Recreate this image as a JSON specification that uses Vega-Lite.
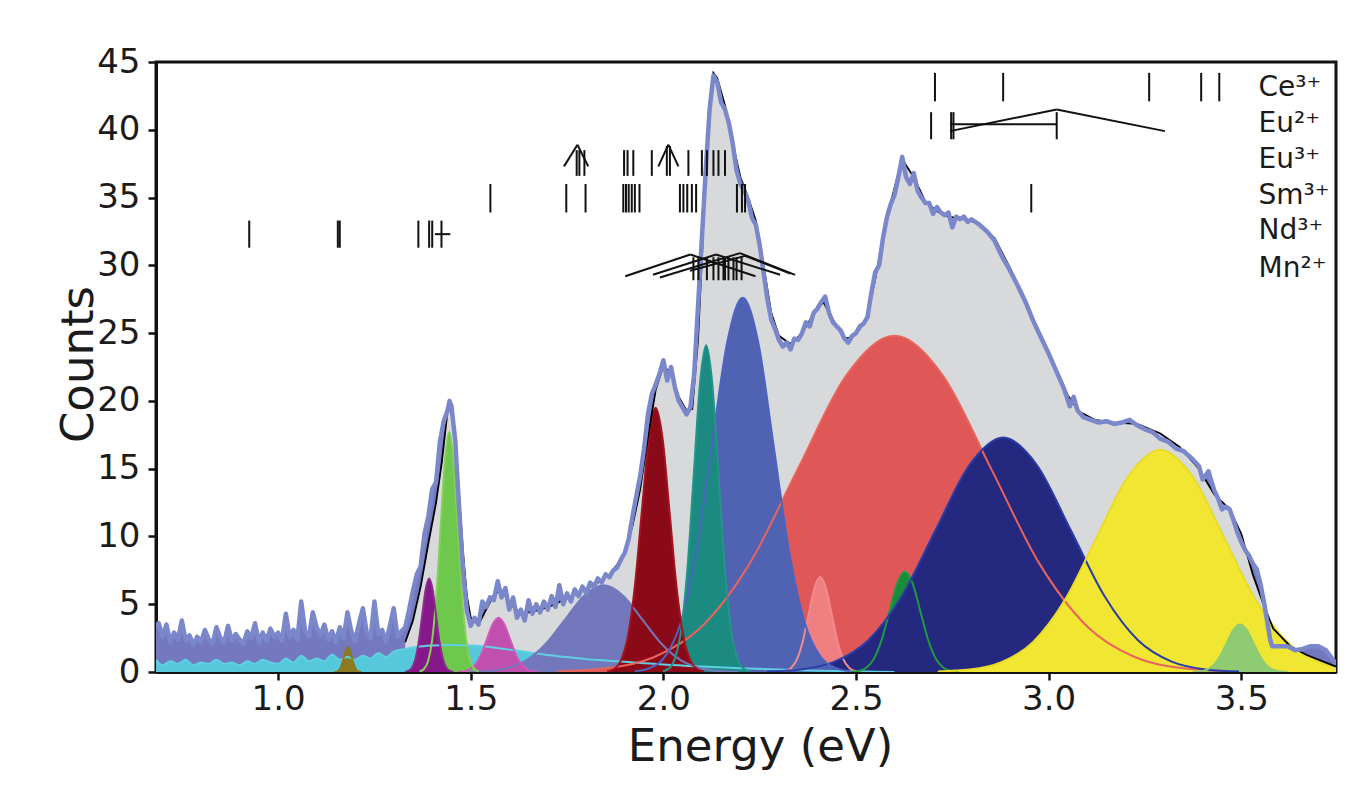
{
"$schema": "https://vega.github.io/schema/vega-lite/v6.json",
"width": 1180, "height": 610,
"autosize": {"type": "none"},
"padding": {"left": 156, "top": 62, "right": 36, "bottom": 113},
"background": "white",
"config": {
 "font": "DejaVu Sans",
 "view": {"stroke": "#111", "strokeWidth": 3},
 "axis": {"grid": false, "domainColor": "#111", "domainWidth": 3, "tickColor": "#111", "tickWidth": 2.5, "tickSize": 8, "labelColor": "#1b1b1b", "labelFontSize": 34, "titleColor": "#1b1b1b", "titleFontSize": 45, "titleFontWeight": "normal", "labelOverlap": false}
},
"datasets": {
 "meas": [
  {"e":0.683,"y":3.4},{"e":0.69,"y":3.6},{"e":0.70,"y":2.6},{"e":0.71,"y":3.5},{"e":0.72,"y":2.2},{"e":0.73,"y":2.9},{"e":0.74,"y":2.4},{"e":0.75,"y":3.8},{"e":0.76,"y":2.3},{"e":0.77,"y":2.7},{"e":0.78,"y":2.0},{"e":0.79,"y":2.6},{"e":0.80,"y":2.2},{"e":0.81,"y":3.1},{"e":0.82,"y":2.4},{"e":0.83,"y":2.1},{"e":0.84,"y":3.3},{"e":0.85,"y":2.5},{"e":0.86,"y":2.2},{"e":0.87,"y":3.4},{"e":0.88,"y":2.3},{"e":0.89,"y":2.8},{"e":0.90,"y":2.4},{"e":0.91,"y":2.1},{"e":0.92,"y":3.0},{"e":0.93,"y":2.5},{"e":0.94,"y":3.6},{"e":0.95,"y":2.2},{"e":0.96,"y":2.9},{"e":0.97,"y":2.3},{"e":0.98,"y":3.2},{"e":0.99,"y":2.6},{"e":1.00,"y":2.9},{"e":1.01,"y":2.3},{"e":1.02,"y":4.3},{"e":1.03,"y":2.6},{"e":1.04,"y":3.1},{"e":1.05,"y":2.4},{"e":1.06,"y":5.2},{"e":1.07,"y":3.0},{"e":1.08,"y":2.6},{"e":1.09,"y":4.4},{"e":1.10,"y":3.3},{"e":1.11,"y":2.7},{"e":1.12,"y":3.5},{"e":1.13,"y":2.4},{"e":1.14,"y":3.0},{"e":1.15,"y":2.2},{"e":1.16,"y":3.3},{"e":1.17,"y":2.5},{"e":1.18,"y":4.4},{"e":1.19,"y":3.0},{"e":1.20,"y":2.3},{"e":1.21,"y":3.6},{"e":1.22,"y":4.7},{"e":1.23,"y":2.9},{"e":1.24,"y":2.5},{"e":1.25,"y":5.2},{"e":1.26,"y":2.8},{"e":1.27,"y":3.1},{"e":1.28,"y":2.2},{"e":1.29,"y":3.4},{"e":1.30,"y":4.7},{"e":1.31,"y":2.6},{"e":1.32,"y":3.0},{"e":1.33,"y":3.3},{"e":1.34,"y":4.6},{"e":1.35,"y":6.0},{"e":1.36,"y":7.2},{"e":1.37,"y":7.8},{"e":1.38,"y":10.2},{"e":1.39,"y":11.5},{"e":1.40,"y":13.5},{"e":1.41,"y":14.0},{"e":1.42,"y":17.0},{"e":1.43,"y":18.5},{"e":1.44,"y":19.3},{"e":1.445,"y":20.0},{"e":1.45,"y":19.6},{"e":1.46,"y":17.0},{"e":1.47,"y":12.0},{"e":1.48,"y":7.5},{"e":1.49,"y":4.5},{"e":1.50,"y":3.4},{"e":1.51,"y":4.0},{"e":1.52,"y":3.5},{"e":1.53,"y":5.2},{"e":1.54,"y":4.8},{"e":1.55,"y":5.5},{"e":1.56,"y":5.3},{"e":1.57,"y":6.7},{"e":1.58,"y":5.5},{"e":1.59,"y":6.2},{"e":1.60,"y":4.6},{"e":1.61,"y":5.5},{"e":1.62,"y":4.0},{"e":1.63,"y":4.6},{"e":1.64,"y":3.8},{"e":1.65,"y":5.3},{"e":1.66,"y":4.3},{"e":1.67,"y":5.0},{"e":1.68,"y":4.4},{"e":1.69,"y":5.2},{"e":1.70,"y":4.6},{"e":1.71,"y":5.6},{"e":1.72,"y":4.8},{"e":1.73,"y":6.4},{"e":1.74,"y":5.0},{"e":1.75,"y":5.8},{"e":1.76,"y":5.2},{"e":1.77,"y":6.1},{"e":1.78,"y":5.6},{"e":1.79,"y":6.3},{"e":1.80,"y":5.8},{"e":1.81,"y":6.6},{"e":1.82,"y":6.3},{"e":1.83,"y":6.9},{"e":1.84,"y":6.6},{"e":1.85,"y":7.2},{"e":1.86,"y":7.0},{"e":1.87,"y":7.5},{"e":1.88,"y":7.7},{"e":1.89,"y":8.3},{"e":1.90,"y":8.8},{"e":1.91,"y":9.8},{"e":1.92,"y":11.5},{"e":1.93,"y":13.0},{"e":1.94,"y":14.5},{"e":1.95,"y":16.5},{"e":1.96,"y":19.0},{"e":1.97,"y":20.5},{"e":1.98,"y":21.2},{"e":1.99,"y":22.0},{"e":2.00,"y":23.0},{"e":2.01,"y":21.5},{"e":2.02,"y":22.5},{"e":2.03,"y":21.0},{"e":2.04,"y":20.0},{"e":2.05,"y":19.5},{"e":2.06,"y":19.0},{"e":2.07,"y":19.5},{"e":2.08,"y":22.0},{"e":2.09,"y":27.0},{"e":2.10,"y":32.0},{"e":2.11,"y":37.0},{"e":2.12,"y":41.5},{"e":2.13,"y":44.0},{"e":2.14,"y":43.5},{"e":2.15,"y":42.0},{"e":2.16,"y":41.5},{"e":2.17,"y":40.5},{"e":2.18,"y":39.0},{"e":2.19,"y":37.0},{"e":2.20,"y":36.0},{"e":2.21,"y":35.5},{"e":2.22,"y":34.8},{"e":2.23,"y":33.5},{"e":2.24,"y":33.0},{"e":2.25,"y":31.5},{"e":2.26,"y":29.5},{"e":2.27,"y":27.5},{"e":2.28,"y":26.0},{"e":2.29,"y":25.3},{"e":2.30,"y":24.5},{"e":2.31,"y":24.0},{"e":2.32,"y":24.3},{"e":2.33,"y":23.8},{"e":2.34,"y":24.6},{"e":2.35,"y":24.5},{"e":2.36,"y":25.0},{"e":2.37,"y":25.8},{"e":2.38,"y":25.5},{"e":2.39,"y":26.5},{"e":2.40,"y":26.8},{"e":2.41,"y":27.3},{"e":2.42,"y":27.7},{"e":2.43,"y":26.5},{"e":2.44,"y":25.8},{"e":2.45,"y":25.5},{"e":2.46,"y":25.2},{"e":2.47,"y":24.6},{"e":2.48,"y":24.3},{"e":2.49,"y":24.8},{"e":2.50,"y":25.0},{"e":2.51,"y":25.5},{"e":2.52,"y":25.7},{"e":2.53,"y":26.2},{"e":2.54,"y":28.0},{"e":2.55,"y":29.5},{"e":2.56,"y":30.0},{"e":2.57,"y":32.0},{"e":2.58,"y":33.5},{"e":2.59,"y":34.5},{"e":2.60,"y":35.2},{"e":2.61,"y":36.5},{"e":2.62,"y":38.0},{"e":2.63,"y":36.5},{"e":2.64,"y":36.0},{"e":2.65,"y":36.8},{"e":2.66,"y":35.5},{"e":2.67,"y":35.0},{"e":2.68,"y":34.6},{"e":2.69,"y":34.6},{"e":2.70,"y":33.8},{"e":2.71,"y":34.3},{"e":2.72,"y":33.9},{"e":2.73,"y":33.7},{"e":2.74,"y":33.9},{"e":2.75,"y":32.8},{"e":2.76,"y":33.6},{"e":2.77,"y":33.4},{"e":2.78,"y":33.6},{"e":2.79,"y":33.2},{"e":2.80,"y":33.4},{"e":2.82,"y":33.0},{"e":2.84,"y":32.5},{"e":2.86,"y":31.8},{"e":2.88,"y":30.6},{"e":2.90,"y":29.6},{"e":2.92,"y":28.5},{"e":2.94,"y":27.3},{"e":2.96,"y":25.9},{"e":2.98,"y":24.7},{"e":3.00,"y":23.5},{"e":3.02,"y":22.2},{"e":3.04,"y":20.9},{"e":3.055,"y":19.6},{"e":3.065,"y":20.3},{"e":3.075,"y":19.3},{"e":3.09,"y":18.8},{"e":3.11,"y":18.6},{"e":3.13,"y":18.4},{"e":3.15,"y":18.5},{"e":3.17,"y":18.3},{"e":3.19,"y":18.4},{"e":3.21,"y":18.6},{"e":3.23,"y":18.2},{"e":3.25,"y":17.9},{"e":3.27,"y":17.7},{"e":3.29,"y":17.2},{"e":3.31,"y":17.0},{"e":3.33,"y":16.5},{"e":3.35,"y":16.3},{"e":3.37,"y":15.8},{"e":3.39,"y":15.2},{"e":3.40,"y":14.2},{"e":3.415,"y":14.8},{"e":3.43,"y":13.4},{"e":3.44,"y":12.8},{"e":3.45,"y":12.0},{"e":3.46,"y":12.2},{"e":3.47,"y":12.0},{"e":3.48,"y":11.2},{"e":3.49,"y":10.3},{"e":3.50,"y":9.6},{"e":3.51,"y":9.0},{"e":3.52,"y":8.6},{"e":3.53,"y":8.0},{"e":3.54,"y":7.6},{"e":3.55,"y":6.5},{"e":3.56,"y":5.0},{"e":3.57,"y":3.3},{"e":3.575,"y":2.4},{"e":3.58,"y":1.9},{"e":3.60,"y":1.9},{"e":3.62,"y":1.9},{"e":3.64,"y":1.6},{"e":3.66,"y":1.7},{"e":3.68,"y":1.9},{"e":3.70,"y":1.9},{"e":3.72,"y":1.6},{"e":3.746,"y":0.6}
 ],
 "fit": [
  {"e":1.33,"y":2.2},{"e":1.35,"y":3.8},{"e":1.37,"y":6.3},{"e":1.39,"y":9.5},{"e":1.41,"y":12.5},{"e":1.425,"y":15.5},{"e":1.44,"y":19.3},{"e":1.45,"y":19.5},{"e":1.46,"y":17.3},{"e":1.47,"y":13.0},{"e":1.48,"y":8.8},{"e":1.49,"y":5.6},{"e":1.50,"y":4.0},{"e":1.52,"y":3.5},{"e":1.54,"y":4.6},{"e":1.56,"y":5.7},{"e":1.575,"y":6.0},{"e":1.59,"y":5.6},{"e":1.61,"y":4.8},{"e":1.63,"y":4.35},{"e":1.65,"y":4.4},{"e":1.68,"y":4.6},{"e":1.71,"y":4.9},{"e":1.74,"y":5.3},{"e":1.77,"y":5.7},{"e":1.80,"y":6.1},{"e":1.83,"y":6.6},{"e":1.86,"y":7.2},{"e":1.88,"y":7.9},{"e":1.90,"y":8.9},{"e":1.92,"y":10.8},{"e":1.94,"y":13.5},{"e":1.96,"y":17.3},{"e":1.98,"y":20.8},{"e":2.00,"y":22.6},{"e":2.02,"y":22.0},{"e":2.04,"y":20.3},{"e":2.06,"y":19.3},{"e":2.075,"y":19.4},{"e":2.09,"y":24.5},{"e":2.10,"y":30.5},{"e":2.11,"y":37.0},{"e":2.12,"y":42.0},{"e":2.13,"y":44.2},{"e":2.14,"y":43.8},{"e":2.16,"y":41.8},{"e":2.18,"y":39.0},{"e":2.20,"y":36.5},{"e":2.22,"y":35.0},{"e":2.24,"y":33.3},{"e":2.26,"y":30.0},{"e":2.28,"y":26.5},{"e":2.30,"y":24.8},{"e":2.33,"y":24.2},{"e":2.36,"y":25.0},{"e":2.39,"y":26.4},{"e":2.415,"y":27.3},{"e":2.44,"y":26.0},{"e":2.47,"y":24.6},{"e":2.49,"y":24.7},{"e":2.51,"y":25.3},{"e":2.53,"y":26.3},{"e":2.55,"y":29.0},{"e":2.57,"y":32.0},{"e":2.59,"y":34.6},{"e":2.61,"y":36.8},{"e":2.625,"y":37.6},{"e":2.65,"y":36.5},{"e":2.68,"y":34.7},{"e":2.71,"y":34.0},{"e":2.74,"y":33.6},{"e":2.78,"y":33.4},{"e":2.82,"y":33.1},{"e":2.86,"y":32.0},{"e":2.90,"y":29.8},{"e":2.95,"y":26.7},{"e":3.00,"y":23.5},{"e":3.05,"y":20.4},{"e":3.08,"y":19.2},{"e":3.12,"y":18.6},{"e":3.17,"y":18.4},{"e":3.23,"y":18.3},{"e":3.29,"y":17.6},{"e":3.34,"y":16.6},{"e":3.39,"y":15.0},{"e":3.43,"y":13.1},{"e":3.47,"y":12.0},{"e":3.50,"y":10.2},{"e":3.53,"y":7.2},{"e":3.555,"y":5.2},{"e":3.583,"y":3.2},{"e":3.627,"y":1.9},{"e":3.67,"y":1.25},{"e":3.71,"y":0.8},{"e":3.746,"y":0.4}
 ],
 "comp": [
  {"c":"a","e":0.683,"y":0.9},{"c":"a","e":0.70,"y":0.5},{"c":"a","e":0.72,"y":0.8},{"c":"a","e":0.74,"y":0.6},{"c":"a","e":0.76,"y":0.9},{"c":"a","e":0.78,"y":0.5},{"c":"a","e":0.80,"y":0.7},{"c":"a","e":0.82,"y":0.6},{"c":"a","e":0.84,"y":0.9},{"c":"a","e":0.86,"y":0.6},{"c":"a","e":0.88,"y":0.7},{"c":"a","e":0.90,"y":0.5},{"c":"a","e":0.92,"y":0.8},{"c":"a","e":0.94,"y":0.6},{"c":"a","e":0.96,"y":0.9},{"c":"a","e":0.98,"y":0.7},{"c":"a","e":1.00,"y":0.6},{"c":"a","e":1.02,"y":1.0},{"c":"a","e":1.04,"y":0.7},{"c":"a","e":1.06,"y":1.2},{"c":"a","e":1.08,"y":0.8},{"c":"a","e":1.10,"y":1.0},{"c":"a","e":1.12,"y":0.8},{"c":"a","e":1.14,"y":1.3},{"c":"a","e":1.16,"y":0.9},{"c":"a","e":1.18,"y":1.1},{"c":"a","e":1.20,"y":0.9},{"c":"a","e":1.22,"y":1.2},{"c":"a","e":1.24,"y":1.0},{"c":"a","e":1.26,"y":1.4},{"c":"a","e":1.28,"y":1.1},{"c":"a","e":1.30,"y":1.5},{"c":"a","e":1.33,"y":1.7},{"c":"a","e":1.36,"y":1.85},{"c":"a","e":1.40,"y":1.95},{"c":"a","e":1.45,"y":2.0},{"c":"a","e":1.50,"y":1.95},{"c":"a","e":1.55,"y":1.85},{"c":"a","e":1.60,"y":1.65},{"c":"a","e":1.65,"y":1.45},{"c":"a","e":1.70,"y":1.25},{"c":"a","e":1.75,"y":1.1},{"c":"a","e":1.80,"y":0.95},{"c":"a","e":1.85,"y":0.85},{"c":"a","e":1.90,"y":0.75},{"c":"a","e":1.95,"y":0.65},{"c":"a","e":2.00,"y":0.55},{"c":"a","e":2.10,"y":0.4},{"c":"a","e":2.20,"y":0.28},{"c":"a","e":2.30,"y":0.18},{"c":"a","e":2.40,"y":0.1},{"c":"a","e":2.50,"y":0.05},{"c":"a","e":2.60,"y":0},
  {"c":"b","e":1.495,"y":0.01},{"c":"b","e":1.545,"y":0.07},{"c":"b","e":1.595,"y":0.28},{"c":"b","e":1.645,"y":0.87},{"c":"b","e":1.695,"y":2.08},{"c":"b","e":1.745,"y":3.88},{"c":"b","e":1.795,"y":5.65},{"c":"b","e":1.845,"y":6.4},{"c":"b","e":1.895,"y":5.65},{"c":"b","e":1.945,"y":3.88},{"c":"b","e":1.995,"y":2.08},{"c":"b","e":2.045,"y":0.87},{"c":"b","e":2.095,"y":0.28},{"c":"b","e":2.145,"y":0.07},{"c":"b","e":2.195,"y":0.01},
  {"c":"c","e":1.725,"y":0.05},{"c":"c","e":1.85,"y":0.28},{"c":"c","e":1.975,"y":1.09},{"c":"c","e":2.1,"y":3.36},{"c":"c","e":2.225,"y":8.05},{"c":"c","e":2.35,"y":15.04},{"c":"c","e":2.475,"y":21.89},{"c":"c","e":2.6,"y":24.8},{"c":"c","e":2.725,"y":21.89},{"c":"c","e":2.85,"y":15.04},{"c":"c","e":2.975,"y":8.05},{"c":"c","e":3.1,"y":3.36},{"c":"c","e":3.225,"y":1.09},{"c":"c","e":3.35,"y":0.28},{"c":"c","e":3.475,"y":0.05},
  {"c":"d","e":2.302,"y":0.02},{"c":"d","e":2.317,"y":0.08},{"c":"d","e":2.332,"y":0.31},{"c":"d","e":2.347,"y":0.95},{"c":"d","e":2.362,"y":2.27},{"c":"d","e":2.377,"y":4.25},{"c":"d","e":2.392,"y":6.18},{"c":"d","e":2.407,"y":7.0},{"c":"d","e":2.422,"y":6.18},{"c":"d","e":2.437,"y":4.25},{"c":"d","e":2.452,"y":2.27},{"c":"d","e":2.467,"y":0.95},{"c":"d","e":2.482,"y":0.31},{"c":"d","e":2.497,"y":0.08},{"c":"d","e":2.512,"y":0.02},
  {"c":"e","e":2.487,"y":0.02},{"c":"e","e":2.507,"y":0.08},{"c":"e","e":2.527,"y":0.32},{"c":"e","e":2.547,"y":1.0},{"c":"e","e":2.567,"y":2.4},{"c":"e","e":2.587,"y":4.49},{"c":"e","e":2.607,"y":6.53},{"c":"e","e":2.627,"y":7.4},{"c":"e","e":2.647,"y":6.53},{"c":"e","e":2.667,"y":4.49},{"c":"e","e":2.687,"y":2.4},{"c":"e","e":2.707,"y":1.0},{"c":"e","e":2.727,"y":0.32},{"c":"e","e":2.747,"y":0.08},{"c":"e","e":2.767,"y":0.02},
  {"c":"f","e":2.2695,"y":0.04},{"c":"f","e":2.357,"y":0.19},{"c":"f","e":2.4445,"y":0.76},{"c":"f","e":2.532,"y":2.34},{"c":"f","e":2.6195,"y":5.62},{"c":"f","e":2.707,"y":10.49},{"c":"f","e":2.7945,"y":15.27},{"c":"f","e":2.882,"y":17.3},{"c":"f","e":2.9695,"y":15.27},{"c":"f","e":3.057,"y":10.49},{"c":"f","e":3.1445,"y":5.62},{"c":"f","e":3.232,"y":2.34},{"c":"f","e":3.3195,"y":0.76},{"c":"f","e":3.407,"y":0.19},{"c":"f","e":3.4945,"y":0.04},
  {"c":"g","e":2.7125,"y":0.04},{"c":"g","e":2.795,"y":0.18},{"c":"g","e":2.8775,"y":0.72},{"c":"g","e":2.96,"y":2.22},{"c":"g","e":3.0425,"y":5.32},{"c":"g","e":3.125,"y":9.95},{"c":"g","e":3.2075,"y":14.47},{"c":"g","e":3.29,"y":16.4},{"c":"g","e":3.3725,"y":14.47},{"c":"g","e":3.455,"y":9.95},{"c":"g","e":3.5375,"y":5.32},{"c":"g","e":3.62,"y":2.22},{"c":"g","e":3.7025,"y":0.72},{"c":"g","e":3.746,"y":0.36},
  {"c":"h","e":3.3745,"y":0.01},{"c":"h","e":3.392,"y":0.04},{"c":"h","e":3.4095,"y":0.15},{"c":"h","e":3.427,"y":0.47},{"c":"h","e":3.4445,"y":1.14},{"c":"h","e":3.462,"y":2.12},{"c":"h","e":3.4795,"y":3.09},{"c":"h","e":3.497,"y":3.5},{"c":"h","e":3.5145,"y":3.09},{"c":"h","e":3.532,"y":2.12},{"c":"h","e":3.5495,"y":1.14},{"c":"h","e":3.567,"y":0.47},{"c":"h","e":3.5845,"y":0.15},{"c":"h","e":3.602,"y":0.04},{"c":"h","e":3.6195,"y":0.01},
  {"c":"i","e":1.926,"y":0.06},{"c":"i","e":1.966,"y":0.31},{"c":"i","e":2.006,"y":1.21},{"c":"i","e":2.046,"y":3.73},{"c":"i","e":2.086,"y":8.96},{"c":"i","e":2.126,"y":16.74},{"c":"i","e":2.166,"y":24.36},{"c":"i","e":2.206,"y":27.6},{"c":"i","e":2.246,"y":24.36},{"c":"i","e":2.286,"y":16.74},{"c":"i","e":2.326,"y":8.96},{"c":"i","e":2.366,"y":3.73},{"c":"i","e":2.406,"y":1.21},{"c":"i","e":2.446,"y":0.31},{"c":"i","e":2.486,"y":0.06},
  {"c":"j","e":1.999,"y":0.05},{"c":"j","e":2.015,"y":0.27},{"c":"j","e":2.031,"y":1.06},{"c":"j","e":2.047,"y":3.26},{"c":"j","e":2.063,"y":7.83},{"c":"j","e":2.079,"y":14.62},{"c":"j","e":2.095,"y":21.27},{"c":"j","e":2.111,"y":24.1},{"c":"j","e":2.127,"y":21.27},{"c":"j","e":2.143,"y":14.62},{"c":"j","e":2.159,"y":7.83},{"c":"j","e":2.175,"y":3.26},{"c":"j","e":2.191,"y":1.06},{"c":"j","e":2.207,"y":0.27},{"c":"j","e":2.223,"y":0.05},
  {"c":"k","e":1.854,"y":0.04},{"c":"k","e":1.872,"y":0.22},{"c":"k","e":1.890,"y":0.86},{"c":"k","e":1.908,"y":2.64},{"c":"k","e":1.926,"y":6.33},{"c":"k","e":1.944,"y":11.83},{"c":"k","e":1.962,"y":17.21},{"c":"k","e":1.980,"y":19.5},{"c":"k","e":1.998,"y":17.21},{"c":"k","e":2.016,"y":11.83},{"c":"k","e":2.034,"y":6.33},{"c":"k","e":2.052,"y":2.64},{"c":"k","e":2.070,"y":0.86},{"c":"k","e":2.088,"y":0.22},{"c":"k","e":2.106,"y":0.04},
  {"c":"l","e":1.467,"y":0.01},{"c":"l","e":1.482,"y":0.04},{"c":"l","e":1.497,"y":0.18},{"c":"l","e":1.512,"y":0.54},{"c":"l","e":1.527,"y":1.3},{"c":"l","e":1.542,"y":2.43},{"c":"l","e":1.557,"y":3.53},{"c":"l","e":1.572,"y":4.0},{"c":"l","e":1.587,"y":3.53},{"c":"l","e":1.602,"y":2.43},{"c":"l","e":1.617,"y":1.3},{"c":"l","e":1.632,"y":0.54},{"c":"l","e":1.647,"y":0.18},{"c":"l","e":1.662,"y":0.04},{"c":"l","e":1.677,"y":0.01},
  {"c":"m","e":1.367,"y":0.04},{"c":"m","e":1.378,"y":0.2},{"c":"m","e":1.389,"y":0.78},{"c":"m","e":1.400,"y":2.39},{"c":"m","e":1.411,"y":5.75},{"c":"m","e":1.422,"y":10.74},{"c":"m","e":1.433,"y":15.62},{"c":"m","e":1.444,"y":17.7},{"c":"m","e":1.455,"y":15.62},{"c":"m","e":1.466,"y":10.74},{"c":"m","e":1.477,"y":5.75},{"c":"m","e":1.488,"y":2.39},{"c":"m","e":1.499,"y":0.78},{"c":"m","e":1.510,"y":0.2},{"c":"m","e":1.521,"y":0.04},
  {"c":"n","e":1.329,"y":0},{"c":"n","e":1.338,"y":0.08},{"c":"n","e":1.347,"y":0.3},{"c":"n","e":1.356,"y":0.93},{"c":"n","e":1.365,"y":2.24},{"c":"n","e":1.374,"y":4.18},{"c":"n","e":1.383,"y":6.09},{"c":"n","e":1.392,"y":6.9},{"c":"n","e":1.401,"y":6.09},{"c":"n","e":1.410,"y":4.18},{"c":"n","e":1.419,"y":2.24},{"c":"n","e":1.428,"y":0.93},{"c":"n","e":1.437,"y":0.3},{"c":"n","e":1.446,"y":0.08},{"c":"n","e":1.455,"y":0},
  {"c":"o","e":1.146,"y":0},{"c":"o","e":1.151,"y":0.02},{"c":"o","e":1.156,"y":0.08},{"c":"o","e":1.161,"y":0.25},{"c":"o","e":1.166,"y":0.6},{"c":"o","e":1.171,"y":1.12},{"c":"o","e":1.176,"y":1.63},{"c":"o","e":1.181,"y":1.85},{"c":"o","e":1.186,"y":1.63},{"c":"o","e":1.191,"y":1.12},{"c":"o","e":1.196,"y":0.6},{"c":"o","e":1.201,"y":0.25},{"c":"o","e":1.206,"y":0.08},{"c":"o","e":1.211,"y":0.02},{"c":"o","e":1.216,"y":0}
 ],
 "segs": [
  {"x":2.705,"x2":2.705,"y":42.1,"y2":44.2},{"x":2.882,"x2":2.882,"y":42.1,"y2":44.2},{"x":3.261,"x2":3.261,"y":42.1,"y2":44.2},{"x":3.396,"x2":3.396,"y":42.1,"y2":44.2},{"x":3.443,"x2":3.443,"y":42.1,"y2":44.2},
  {"x":2.695,"x2":2.695,"y":39.3,"y2":41.3},{"x":2.747,"x2":2.747,"y":39.3,"y2":41.3},{"x":2.753,"x2":2.753,"y":39.3,"y2":41.3},{"x":3.021,"x2":3.021,"y":39.3,"y2":41.3},
  {"x":2.744,"x2":3.021,"y":40.4,"y2":40.4},{"x":2.744,"x2":3.021,"y":39.9,"y2":41.5},{"x":3.021,"x2":3.302,"y":41.5,"y2":39.9},
  {"x":1.775,"x2":1.775,"y":36.6,"y2":38.5},{"x":1.782,"x2":1.782,"y":36.6,"y2":38.5},{"x":1.795,"x2":1.795,"y":36.6,"y2":38.5},{"x":1.898,"x2":1.898,"y":36.6,"y2":38.5},{"x":1.907,"x2":1.907,"y":36.6,"y2":38.5},{"x":1.922,"x2":1.922,"y":36.6,"y2":38.5},{"x":1.970,"x2":1.970,"y":36.6,"y2":38.5},{"x":2.009,"x2":2.009,"y":36.6,"y2":38.8},{"x":2.017,"x2":2.017,"y":36.6,"y2":38.8},{"x":2.065,"x2":2.065,"y":36.6,"y2":38.5},{"x":2.100,"x2":2.100,"y":36.6,"y2":38.5},{"x":2.113,"x2":2.113,"y":36.6,"y2":38.5},{"x":2.130,"x2":2.130,"y":36.6,"y2":38.5},{"x":2.143,"x2":2.143,"y":36.6,"y2":38.5},{"x":2.160,"x2":2.160,"y":36.6,"y2":38.5},
  {"x":1.742,"x2":1.777,"y":37.3,"y2":38.9},{"x":1.777,"x2":1.805,"y":38.9,"y2":37.3},{"x":1.987,"x2":2.013,"y":37.3,"y2":38.9},{"x":2.013,"x2":2.039,"y":38.9,"y2":37.3},
  {"x":1.551,"x2":1.551,"y":33.9,"y2":36.0},{"x":1.748,"x2":1.748,"y":33.9,"y2":36.0},{"x":1.798,"x2":1.798,"y":33.9,"y2":36.0},{"x":1.896,"x2":1.896,"y":33.9,"y2":36.0},{"x":1.903,"x2":1.903,"y":33.9,"y2":36.0},{"x":1.910,"x2":1.910,"y":33.9,"y2":36.0},{"x":1.918,"x2":1.918,"y":33.9,"y2":36.0},{"x":1.926,"x2":1.926,"y":33.9,"y2":36.0},{"x":1.938,"x2":1.938,"y":33.9,"y2":36.0},{"x":2.043,"x2":2.043,"y":33.9,"y2":36.0},{"x":2.052,"x2":2.052,"y":33.9,"y2":36.0},{"x":2.062,"x2":2.062,"y":33.9,"y2":36.0},{"x":2.074,"x2":2.074,"y":33.9,"y2":36.0},{"x":2.085,"x2":2.085,"y":33.9,"y2":36.0},{"x":2.191,"x2":2.191,"y":33.9,"y2":36.0},{"x":2.204,"x2":2.204,"y":33.9,"y2":36.0},{"x":2.212,"x2":2.212,"y":33.9,"y2":36.0},{"x":2.955,"x2":2.955,"y":33.9,"y2":36.0},
  {"x":0.925,"x2":0.925,"y":31.3,"y2":33.3},{"x":1.155,"x2":1.155,"y":31.3,"y2":33.3},{"x":1.160,"x2":1.160,"y":31.3,"y2":33.3},{"x":1.364,"x2":1.364,"y":31.3,"y2":33.3},{"x":1.392,"x2":1.392,"y":31.3,"y2":33.3},{"x":1.400,"x2":1.400,"y":31.3,"y2":33.3},{"x":1.424,"x2":1.424,"y":31.3,"y2":33.3},{"x":1.407,"x2":1.447,"y":32.3,"y2":32.3},
  {"x":2.078,"x2":2.078,"y":28.9,"y2":30.6},{"x":2.091,"x2":2.091,"y":28.9,"y2":30.6},{"x":2.113,"x2":2.113,"y":28.9,"y2":30.6},{"x":2.130,"x2":2.130,"y":28.9,"y2":30.6},{"x":2.143,"x2":2.143,"y":28.9,"y2":30.6},{"x":2.156,"x2":2.156,"y":28.9,"y2":30.6},{"x":2.160,"x2":2.160,"y":28.9,"y2":30.6},{"x":2.169,"x2":2.169,"y":28.9,"y2":30.6},{"x":2.182,"x2":2.182,"y":28.9,"y2":30.6},{"x":2.190,"x2":2.190,"y":28.9,"y2":30.6},{"x":2.203,"x2":2.203,"y":28.9,"y2":30.6},
  {"x":1.901,"x2":2.070,"y":29.2,"y2":30.8},{"x":2.070,"x2":2.239,"y":30.8,"y2":29.2},{"x":1.973,"x2":2.137,"y":29.3,"y2":30.8},{"x":2.137,"x2":2.303,"y":30.8,"y2":29.3},{"x":1.991,"x2":2.199,"y":29.1,"y2":30.9},{"x":2.199,"x2":2.342,"y":30.9,"y2":29.3},{"x":2.069,"x2":2.212,"y":29.6,"y2":30.7},{"x":2.212,"x2":2.329,"y":30.7,"y2":29.4}
 ],
 "ions": [
  {"t":"Ce³⁺","e":3.545,"y":43.1},{"t":"Eu²⁺","e":3.545,"y":40.4},{"t":"Eu³⁺","e":3.545,"y":37.8},{"t":"Sm³⁺","e":3.545,"y":35.1},{"t":"Nd³⁺","e":3.545,"y":32.5},{"t":"Mn²⁺","e":3.545,"y":29.7}
 ]
},
"layer": [
 {"data": {"name": "meas"}, "mark": {"type": "area", "color": "#7479bf", "clip": true},
  "encoding": {
   "x": {"field": "e", "type": "quantitative", "scale": {"domain": [0.683, 3.746], "nice": false, "zero": false},
    "axis": {"values": [1, 1.5, 2, 2.5, 3, 3.5], "format": ".1f", "labelPadding": 2, "title": "Energy (eV)", "titleX": 604, "titleY": 88, "titleBaseline": "alphabetic"}},
   "y": {"field": "y", "type": "quantitative", "scale": {"domain": [0, 45], "nice": false}, "stack": null,
    "axis": {"values": [0, 5, 10, 15, 20, 25, 30, 35, 40, 45], "labelPadding": 8, "title": "Counts", "titleX": -64, "titleY": 302, "titleBaseline": "alphabetic", "titleAngle": 270}}
  }},
 {"data": {"name": "fit"}, "mark": {"type": "area", "color": "#d8d9da", "clip": true},
  "encoding": {"x": {"field": "e", "type": "quantitative"}, "y": {"field": "y", "type": "quantitative", "stack": null}}},
 {"data": {"name": "comp"}, "mark": {"type": "area", "interpolate": "monotone", "clip": true, "opacity": 1},
  "encoding": {"x": {"field": "e", "type": "quantitative"}, "y": {"field": "y", "type": "quantitative", "stack": null},
   "fill": {"field": "c", "type": "nominal", "legend": null, "scale": {"domain": ["a","b","c","d","e","f","g","h","i","j","k","l","m","n","o"], "range": ["#55c8dc","#7378bd","#e05757","#f07f82","#1a8a3c","#25287f","#f1e631","#8fcb72","#5062b2","#1b8a80","#8a0a18","#c04fb0","#6dc84c","#86198a","#8b7a22"]}}}},
 {"data": {"name": "comp"}, "mark": {"type": "line", "interpolate": "monotone", "clip": true, "strokeWidth": 2},
  "encoding": {"x": {"field": "e", "type": "quantitative"}, "y": {"field": "y", "type": "quantitative", "stack": null},
   "stroke": {"field": "c", "type": "nominal", "legend": null, "scale": {"domain": ["a","b","c","d","e","f","g","h","i","j","k","l","m","n","o"], "range": ["#5fd0e2","#7378bd","#e8645c","#f08a8c","#1f9a40","#2a3ca8","#e8dc28","#8fcb72","#4c63c4","#23958a","#a3141e","#d158b8","#86cf5a","#8d2a8d","#8a7a20"]}}}},
 {"data": {"name": "fit"}, "mark": {"type": "line", "color": "#000", "strokeWidth": 1.8, "clip": true},
  "encoding": {"x": {"field": "e", "type": "quantitative"}, "y": {"field": "y", "type": "quantitative"}}},
 {"data": {"name": "meas"}, "mark": {"type": "line", "color": "#7b87cb", "strokeWidth": 4.5, "strokeJoin": "round", "clip": true},
  "encoding": {"x": {"field": "e", "type": "quantitative"}, "y": {"field": "y", "type": "quantitative"}}},
 {"data": {"name": "segs"}, "mark": {"type": "rule", "color": "#111", "strokeWidth": 2},
  "encoding": {"x": {"field": "x", "type": "quantitative"}, "x2": {"field": "x2"}, "y": {"field": "y", "type": "quantitative"}, "y2": {"field": "y2"}}},
 {"data": {"name": "ions"}, "mark": {"type": "text", "align": "left", "baseline": "middle", "fontSize": 28, "color": "#1b1b1b", "font": "DejaVu Sans"},
  "encoding": {"x": {"field": "e", "type": "quantitative"}, "y": {"field": "y", "type": "quantitative"}, "text": {"field": "t"}}}
]
}
